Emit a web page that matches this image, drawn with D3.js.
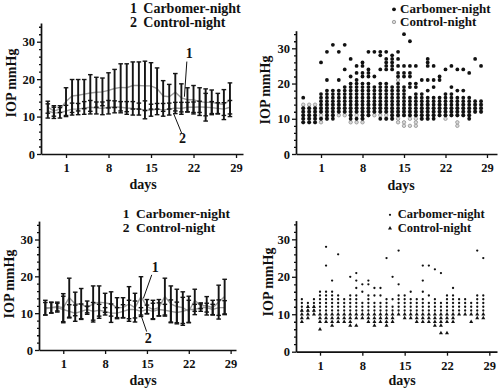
<!DOCTYPE html>
<html>
<head>
<meta charset="utf-8">
<script src="https://cdn.jsdelivr.net/npm/d3@7"></script>
<style>
  body { margin: 0; background: #fff; }
  text { font-family: "Liberation Serif", "Times New Roman", serif; font-weight: bold; fill: #111; }
</style>
</head>
<body>
<script>
'use strict';

// ---- data ----
const days = [-2, -1, 0, 1, 2, 3, 4, 5, 6, 7, 8, 9, 10, 11, 12, 13, 14, 15, 16, 17, 18, 19, 20, 21, 22, 23, 24, 25, 26, 27, 28];
const xTicks = [1, 8, 15, 22, 29];
const yTicks = [0, 10, 20, 30];
const yMinorTicks = [2, 4, 6, 8, 12, 14, 16, 18, 22, 24, 26, 28, 32, 34];

// top row, mean +/- sd
const topCarbMean = [12.5, 11.5, 12, 14, 15.5, 15.7, 16, 16.3, 16.5, 16.6, 17, 17.5, 17.8, 17.7, 18.3, 18.3, 18.2, 18.2, 17.5, 15.5, 15.3, 16.5, 15, 14.5, 14.5, 14, 13.8, 13.8, 13.5, 13.2, 14.5];
const topCarbSd = [1.6, 1.4, 0.9, 3.7, 4.4, 4.2, 3.9, 4.9, 4.0, 3.7, 4.7, 5.1, 6.3, 6.4, 6.3, 6.3, 6.6, 6.2, 5.5, 4.1, 3.3, 5.0, 3.75, 3.2, 3.8, 3.7, 3.6, 3.3, 2.7, 4.0, 4.5];
const topCtrlMean = [11.5, 11, 11, 11.5, 12, 12, 12.3, 12.5, 12.3, 12.2, 12.5, 12.6, 12.5, 12.3, 12.2, 12, 11.8, 11.7, 12, 11.8, 12, 12.3, 12.2, 12.5, 12.5, 12.6, 12.5, 12.4, 12.2, 12, 12.5];
const topCtrlSd = [1.9, 1.5, 1.4, 1.5, 1.6, 1.5, 1.7, 1.8, 1.6, 1.7, 1.8, 1.6, 1.5, 1.7, 1.8, 1.6, 2.4, 1.6, 1.5, 1.7, 1.6, 1.5, 1.6, 1.3, 1.4, 1.5, 3.7, 1.6, 1.5, 1.7, 1.8];

// bottom row, mean +/- sd
const botCarbMean = [11.5, 11.5, 11.8, 11.5, 14.2, 12.5, 12.5, 11.5, 12.5, 13, 12.8, 12.5, 11.5, 11.5, 12.5, 11.5, 14.5, 11.8, 11, 11.5, 14.5, 12.5, 11.8, 11.5, 10.5, 13.5, 12, 12, 11.5, 13, 14.5];
const botCarbSd = [2.0, 1.5, 1.2, 3.8, 5.3, 3.2, 4.2, 1.8, 4.9, 4.4, 2.6, 3.3, 2.7, 2.7, 4.7, 3.9, 5.4, 1.9, 2.5, 2.2, 5.0, 4.9, 4.7, 4.3, 3.0, 3.0, 0.8, 2.5, 2.0, 4.6, 4.7];
const botCtrlMean = [11.2, 11.5, 11.5, 11, 10.5, 10, 10.5, 11, 10.5, 10.8, 10.5, 10, 10, 10.5, 11, 11, 10.5, 11, 10.5, 11, 10.8, 10.5, 10.2, 10.5, 11, 11, 11.5, 11.5, 11, 11.5, 11.5];
const botCtrlSd = [1.7, 1.4, 1.2, 3.6, 1.8, 2.2, 2.0, 0.9, 2.4, 1.6, 1.0, 2.5, 1.5, 1.8, 2.5, 2.3, 1.0, 1.2, 2.2, 1.8, 1.6, 3.1, 2.8, 3.8, 3.6, 1.4, 1.0, 1.2, 1.4, 2.1, 1.9];

// top row, single readings per day
const topCarbPts = [
  [9, 10, 11, 12, 13, 16], [9, 10, 11, 12, 13], [9, 10, 11, 12, 13],
  [10, 12, 13, 14, 15, 16, 17, 26], [10, 11, 12, 13, 14, 15, 16, 17, 18, 21, 29],
  [10, 11, 12, 13, 14, 15, 16, 17, 18, 31], [12, 13, 14, 15, 16, 17, 18, 21, 29],
  [12, 13, 14, 15, 16, 17, 18, 19, 24, 31], [10, 11, 12, 13, 14, 15, 16, 17, 18, 19, 20, 22, 27],
  [10, 12, 13, 14, 15, 16, 17, 18, 19, 20, 21, 23, 25], [10, 11, 12, 13, 14, 15, 16, 17, 18, 19, 20, 22, 23, 25, 26],
  [11, 12, 13, 14, 15, 16, 17, 18, 19, 20, 22, 23, 24, 29], [12, 13, 14, 15, 16, 17, 18, 19, 22, 29],
  [10, 12, 13, 14, 15, 16, 17, 18, 19, 20, 24, 28, 29], [10, 12, 13, 14, 15, 16, 17, 18, 19, 20, 24, 25, 26, 27, 29],
  [10, 11, 12, 13, 14, 15, 16, 17, 18, 19, 24, 25, 26, 27, 28], [11, 12, 13, 14, 15, 16, 17, 18, 19, 20, 22, 23, 25, 27, 29],
  [11, 12, 13, 14, 15, 16, 17, 18, 19, 22, 23, 25, 34], [11, 12, 13, 14, 15, 16, 19, 20, 22, 23, 25, 32],
  [11, 12, 13, 14, 15, 16, 17, 19, 20, 25], [10, 11, 12, 13, 14, 15, 16, 17, 21],
  [10, 11, 12, 13, 14, 15, 16, 18, 21, 25, 26, 27], [10, 11, 12, 13, 14, 15, 16, 19, 21, 25],
  [11, 12, 13, 14, 15, 16, 21, 22], [11, 12, 13, 14, 15, 16, 17, 24],
  [11, 12, 13, 14, 15, 16, 17, 19, 25], [11, 12, 13, 14, 15, 16, 18, 24],
  [11, 12, 13, 14, 15, 16, 18, 24], [10, 11, 12, 13, 14, 15, 16, 23],
  [12, 13, 14, 15, 27], [12, 13, 14, 15, 25]
];
const topCtrlPts = [
  [9, 10, 11, 12, 13, 14], [9, 10, 11, 12, 13, 14], [9, 10, 11, 12, 13, 14],
  [9, 10, 11, 12, 13], [10, 11, 12, 13, 14], [11, 12, 13, 14], [11, 12, 13, 14],
  [11, 12, 13], [9, 11, 12, 13], [9, 11, 12, 13, 14], [9, 10, 11, 12, 13],
  [11, 12, 13, 14], [11, 12, 13, 14], [11, 12, 13, 14], [10, 11, 12, 13],
  [10, 11, 12, 13], [9, 10, 11, 12, 21], [8, 9, 11, 12, 13], [8, 10, 11, 12],
  [8, 9, 10, 11, 12], [10, 11, 12, 13], [10, 11, 12, 13, 14], [11, 12, 13],
  [11, 12, 13, 14], [10, 11, 12, 13], [11, 12, 13], [8, 9, 11, 12, 13],
  [11, 12, 13, 14], [11, 12, 13], [12, 13, 14], [12, 13, 14]
];

// bottom row, single readings per day
const botCarbPts = [
  [11, 12, 13, 14], [11, 12, 13], [11, 12, 13, 14], [11, 12, 13, 14, 15, 16],
  [11, 12, 13, 14, 15, 16, 23, 28], [11, 12, 13, 14, 15, 16, 19], [11, 12, 13, 14, 15, 26],
  [11, 12, 13, 14], [11, 12, 13, 14, 15, 20], [11, 12, 13, 14, 15, 17, 19, 21],
  [11, 12, 13, 16, 18], [11, 12, 13, 14, 15, 18, 19], [11, 12, 13, 15, 17],
  [11, 12, 13, 15, 17], [11, 12, 13, 14, 25], [11, 12, 14, 20], [11, 12, 13, 14, 15, 18, 27],
  [11, 12, 13, 14, 15], [11, 12, 13, 14, 16], [11, 12, 13, 14], [11, 12, 13, 14, 16, 19, 23],
  [11, 12, 13, 15, 23], [11, 12, 13, 14, 22], [11, 12, 13, 21], [11, 12, 13, 14, 15],
  [11, 12, 13, 14, 15, 17], [11, 12, 13, 14], [11, 12, 13, 14], [11, 12, 13],
  [11, 12, 13, 14, 15, 27], [11, 12, 13, 14, 15, 25]
];
const botCtrlPts = [
  [8, 9, 10, 11], [9, 10, 11, 12], [10, 11, 12], [6, 8, 9, 10], [8, 9, 10], [7, 8, 9, 10],
  [8, 9, 10], [8, 9, 10], [7, 8, 9, 10], [7, 9, 10], [9, 10], [8, 9, 10], [7, 8, 9, 10],
  [8, 9, 10], [7, 8, 9, 10], [8, 9, 10], [10], [9, 10], [9, 10], [8, 9, 10], [8, 9, 10],
  [8, 9, 10], [7, 8, 9, 10], [5, 7, 8, 9, 10], [5, 8, 9, 10], [8, 9, 10], [10], [10],
  [8, 10], [9, 10], [9, 10]
];

// ---- drawing ----
const svg = d3.select('body').append('svg')
  .attr('width', 500)
  .attr('height', 390);

// set up scales and draw the axes of one panel
function drawAxes(cfg) {
  let x = d3.scaleLinear().domain(cfg.xDom).range(cfg.xRng);
  let y = d3.scaleLinear().domain([0, 35]).range(cfg.yRng);

  svg.append('g')
    .attr('transform', 'translate(0,' + cfg.yRng[0] + ')')
    .call(d3.axisBottom(x).tickValues(xTicks).tickSize(4).tickSizeOuter(0).tickPadding(5));

  svg.append('g')
    .attr('transform', 'translate(' + cfg.xRng[0] + ',0)')
    .call(d3.axisLeft(y).tickValues(yMinorTicks).tickSize(2).tickSizeOuter(0).tickFormat(''))
    .call(g => g.select('.domain').remove());

  svg.append('g')
    .attr('transform', 'translate(' + cfg.xRng[0] + ',0)')
    .call(d3.axisLeft(y).tickValues(yTicks).tickSize(4).tickSizeOuter(0).tickPadding(2));

  svg.selectAll('.domain').attr('stroke', '#111').attr('stroke-width', 1.7);
  svg.selectAll('.tick line').attr('stroke', '#111').attr('stroke-width', 1.3);
  svg.selectAll('.tick text')
    .style('font-family', '"Liberation Serif", serif')
    .style('font-weight', 'bold')
    .style('font-size', '12.5px')
    .attr('fill', '#111');

  // axis titles
  svg.append('text')
    .attr('transform', 'translate(' + cfg.yTitle[0] + ',' + cfg.yTitle[1] + ')rotate(-90)')
    .attr('text-anchor', 'middle')
    .style('font-size', '14px')
    .text('IOP mmHg');

  svg.append('text')
    .attr('x', cfg.xTitle[0])
    .attr('y', cfg.xTitle[1])
    .attr('text-anchor', 'middle')
    .style('font-size', '14px')
    .text('days');

  return {x: x, y: y};
}

// grey mean lines with black error bars
function plotErrorBars(s, series) {
  let line = d3.line()
    .x((d, i) => s.x(days[i]))
    .y(d => s.y(d));

  series.forEach(ser => {
    svg.append('path')
      .datum(ser.mean)
      .attr('fill', 'none')
      .attr('stroke', '#9c9c9c')
      .attr('stroke-width', 1.4)
      .attr('d', line);
  });

  series.forEach(ser => {
    let g = svg.append('g').attr('stroke', '#151515');
    days.forEach((d, i) => {
      let cx = s.x(d);
      let lo = s.y(ser.mean[i] - ser.sd[i]);
      let hi = s.y(ser.mean[i] + ser.sd[i]);
      g.append('line')
        .attr('x1', cx).attr('x2', cx)
        .attr('y1', lo).attr('y2', hi)
        .attr('stroke-width', 1.9);
      [lo, hi].forEach(yy => {
        g.append('line')
          .attr('x1', cx - 2.3).attr('x2', cx + 2.3)
          .attr('y1', yy).attr('y2', yy)
          .attr('stroke-width', 1.4);
      });
    });
  });
}

function flatten(pts) {
  return days.flatMap((d, i) => pts[i].map(v => ({d: d, v: v})));
}

// "1 Carbomer-night / 2 Control-night" legend
function numberLegend(x, y, size) {
  [['1', 'Carbomer-night'], ['2', 'Control-night']].forEach((row, i) => {
    svg.append('text').attr('x', x).attr('y', y + i * 14)
      .style('font-size', size + 'px').text(row[0]);
    svg.append('text').attr('x', x + 13.3).attr('y', y + i * 14)
      .style('font-size', size + 'px').text(row[1]);
  });
}

// pointer labels "1" and "2" on the line charts
function pointer(s, label, tx, ty, from, to) {
  svg.append('text')
    .attr('x', s.x(tx)).attr('y', s.y(ty))
    .attr('text-anchor', 'middle')
    .style('font-size', '14px')
    .text(label);
  svg.append('line')
    .attr('x1', s.x(from[0])).attr('y1', s.y(from[1]))
    .attr('x2', s.x(to[0])).attr('y2', s.y(to[1]))
    .attr('stroke', '#111')
    .attr('stroke-width', 1);
}

// panel 1: top left
let s1 = drawAxes({xDom: [-3.12, 30.15], xRng: [41, 243], yRng: [154, 23], yTitle: [15.5, 83], xTitle: [143, 189]});
plotErrorBars(s1, [{mean: topCarbMean, sd: topCarbSd}, {mean: topCtrlMean, sd: topCtrlSd}]);
numberLegend(130, 13.3, 14);
pointer(s1, '1', 21.3, 25.6, [20.9, 24.7], [20.5, 15.3]);
pointer(s1, '2', 20.2, 2.9, [18.7, 10.9], [20.06, 5.5]);

// panel 2: top right
let s2 = drawAxes({xDom: [-3.22, 30.69], xRng: [296, 497], yRng: [154, 30.7], yTitle: [269.5, 90], xTitle: [401, 190]});
svg.append('g').selectAll('circle')
  .data(flatten(topCtrlPts))
  .enter()
  .append('circle')
    .attr('cx', d => s2.x(d.d))
    .attr('cy', d => s2.y(d.v))
    .attr('r', 1.7)
    .attr('fill', '#d8d8d8')
    .attr('stroke', '#9a9a9a')
    .attr('stroke-width', 0.9);
svg.append('g').selectAll('circle')
  .data(flatten(topCarbPts))
  .enter()
  .append('circle')
    .attr('cx', d => s2.x(d.d))
    .attr('cy', d => s2.y(d.v))
    .attr('r', 1.9)
    .attr('fill', '#111');
svg.append('circle').attr('cx', 394).attr('cy', 9.3).attr('r', 1.9).attr('fill', '#111');
svg.append('circle').attr('cx', 394).attr('cy', 22).attr('r', 1.7)
  .attr('fill', '#d8d8d8').attr('stroke', '#9a9a9a').attr('stroke-width', 0.9);
svg.append('text').attr('x', 400).attr('y', 12.5).style('font-size', '13px').text('Carbomer-night');
svg.append('text').attr('x', 400).attr('y', 26).style('font-size', '13px').text('Control-night');

// panel 3: bottom left
let s3 = drawAxes({xDom: [-3.06, 29.9], xRng: [39, 236], yRng: [350, 221.1], yTitle: [14, 284], xTitle: [143, 385]});
plotErrorBars(s3, [{mean: botCarbMean, sd: botCarbSd}, {mean: botCtrlMean, sd: botCtrlSd}]);
numberLegend(122.7, 218.3, 13.5);
pointer(s3, '1', 16.4, 21.3, [15.8, 20.4], [14.4, 14.0]);
pointer(s3, '2', 15.2, 1.8, [14.1, 9.0], [14.95, 5.0]);

// panel 4: bottom right
let s4 = drawAxes({xDom: [-2.97, 30.27], xRng: [296, 497], yRng: [351.7, 220.6], yTitle: [273, 282], xTitle: [402, 385]});
let tri = d3.symbol().type(d3.symbolTriangle).size(7);
svg.append('g').selectAll('path')
  .data(flatten(botCtrlPts))
  .enter()
  .append('path')
    .attr('transform', d => 'translate(' + s4.x(d.d) + ',' + s4.y(d.v) + ')')
    .attr('d', tri)
    .attr('fill', '#111');
svg.append('g').selectAll('circle')
  .data(flatten(botCarbPts))
  .enter()
  .append('circle')
    .attr('cx', d => s4.x(d.d))
    .attr('cy', d => s4.y(d.v))
    .attr('r', 1.15)
    .attr('fill', '#111');
svg.append('circle').attr('cx', 390).attr('cy', 214.8).attr('r', 1.1).attr('fill', '#111');
svg.append('path').attr('transform', 'translate(390,228.3)').attr('d', tri).attr('fill', '#111');
svg.append('text').attr('x', 397.7).attr('y', 218.2).style('font-size', '12.5px').text('Carbomer-night');
svg.append('text').attr('x', 397.7).attr('y', 231.8).style('font-size', '12.5px').text('Control-night');
</script>
</body>
</html>
